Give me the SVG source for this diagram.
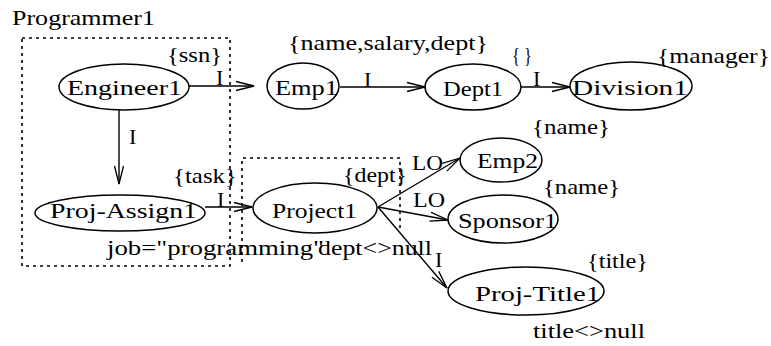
<svg xmlns="http://www.w3.org/2000/svg" width="771" height="346" viewBox="0 0 771 346">
<style>
text{font-size:22px;fill:#000}
.n{fill:none;stroke:#000;stroke-width:1.5}
.e{fill:none;stroke:#000;stroke-width:1.4}
.d{fill:none;stroke:#000;stroke-width:1.6;stroke-dasharray:3 4}
</style>
<defs>
<marker id="a" markerUnits="userSpaceOnUse" markerWidth="20" markerHeight="10" refX="18" refY="4.5" orient="auto" overflow="visible">
<path d="M0,0 L18,4.5 L0,9" fill="none" stroke="#000" stroke-width="1.3"/>
</marker>
</defs>
<g font-family="Liberation Serif, Times New Roman, DejaVu Serif, serif">
<text x="12" y="25" textLength="143" lengthAdjust="spacingAndGlyphs">Programmer1</text>
<g id="box1"><rect class="d" x="22" y="38" width="208" height="228"/></g>
<g id="box2"><path class="d" d="M242,262 L242,158 L400,158 L400,232"/></g>
<g id="connectors">
<path class="e" d="M189,86 L254,86" marker-end="url(#a)"/>
<path class="e" d="M340,87 L425,87" marker-end="url(#a)"/>
<path class="e" d="M521,87 L570,87" marker-end="url(#a)"/>
<path class="e" d="M119,110 L119,184" marker-end="url(#a)"/>
<path class="e" d="M205,207 L252,207" marker-end="url(#a)"/>
<path class="e" d="M378,207 L460,158" marker-end="url(#a)"/>
<path class="e" d="M378,207 L448,220" marker-end="url(#a)"/>
<path class="e" d="M378,207 L447,288" marker-end="url(#a)"/>
<text x="216" y="85">I</text>
<text x="364" y="87">I</text>
<text x="533" y="86">I</text>
<text x="129" y="144">I</text>
<text x="217" y="207">I</text>
<text x="412" y="170" textLength="31" lengthAdjust="spacingAndGlyphs">LO</text>
<text x="413" y="207" textLength="32" lengthAdjust="spacingAndGlyphs">LO</text>
<text x="435" y="267">I</text>
</g>
<g id="Engineer1">
<ellipse class="n" cx="124" cy="87" rx="65" ry="23"/>
<text x="67" y="95" textLength="115" lengthAdjust="spacingAndGlyphs">Engineer1</text>
<text x="167" y="62" textLength="55" lengthAdjust="spacingAndGlyphs">{ssn}</text>
</g>
<g id="Emp1">
<ellipse class="n" cx="303" cy="86" rx="36" ry="23"/>
<text x="275" y="95" textLength="63" lengthAdjust="spacingAndGlyphs">Emp1</text>
<text x="288" y="50" textLength="200" lengthAdjust="spacingAndGlyphs">{name,salary,dept}</text>
</g>
<g id="Dept1">
<ellipse class="n" cx="473" cy="87" rx="48" ry="23"/>
<text x="443" y="96" textLength="60" lengthAdjust="spacingAndGlyphs">Dept1</text>
<text x="512" y="62" textLength="20" lengthAdjust="spacingAndGlyphs">{ }</text>
</g>
<g id="Division1">
<ellipse class="n" cx="631" cy="86" rx="61" ry="24"/>
<text x="572" y="95" textLength="116" lengthAdjust="spacingAndGlyphs">Division1</text>
<text x="657" y="63" textLength="113" lengthAdjust="spacingAndGlyphs">{manager}</text>
</g>
<g id="ProjAssign1">
<ellipse class="n" cx="120" cy="213" rx="85" ry="18"/>
<text x="50" y="218" textLength="147" lengthAdjust="spacingAndGlyphs">Proj-Assign1</text>
<text x="173" y="183" textLength="64" lengthAdjust="spacingAndGlyphs">{task}</text>
<text x="107" y="255" textLength="217" lengthAdjust="spacingAndGlyphs">job="programming"</text>
</g>
<g id="Project1">
<ellipse class="n" cx="315" cy="208" rx="62" ry="25"/>
<text x="272" y="218" textLength="85" lengthAdjust="spacingAndGlyphs">Project1</text>
<text x="343" y="182" textLength="64" lengthAdjust="spacingAndGlyphs">{dept}</text>
<text x="318" y="255" textLength="114" lengthAdjust="spacingAndGlyphs">dept&lt;&gt;null</text>
</g>
<g id="Emp2">
<ellipse class="n" cx="501" cy="160" rx="41" ry="22"/>
<text x="477" y="168" textLength="61" lengthAdjust="spacingAndGlyphs">Emp2</text>
<text x="532" y="134" textLength="78" lengthAdjust="spacingAndGlyphs">{name}</text>
</g>
<g id="Sponsor1">
<ellipse class="n" cx="503" cy="219" rx="55" ry="24"/>
<text x="458" y="228" textLength="99" lengthAdjust="spacingAndGlyphs">Sponsor1</text>
<text x="543" y="194" textLength="77" lengthAdjust="spacingAndGlyphs">{name}</text>
</g>
<g id="ProjTitle1">
<ellipse class="n" cx="526" cy="291" rx="78" ry="24"/>
<text x="475" y="301" textLength="125" lengthAdjust="spacingAndGlyphs">Proj-Title1</text>
<text x="587" y="268" textLength="61" lengthAdjust="spacingAndGlyphs">{title}</text>
<text x="533" y="338" textLength="112" lengthAdjust="spacingAndGlyphs">title&lt;&gt;null</text>
</g>
</g>
</svg>
